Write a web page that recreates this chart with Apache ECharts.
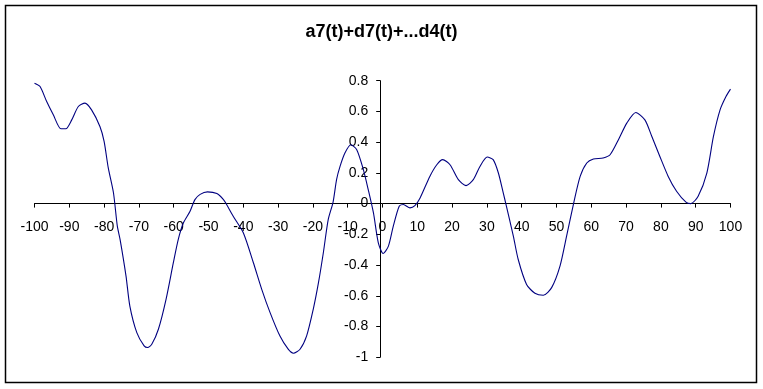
<!DOCTYPE html>
<html>
<head>
<meta charset="utf-8">
<script src="https://cdn.jsdelivr.net/npm/echarts@6/dist/echarts.min.js"></script>
<style>
html,body{margin:0;padding:0;background:#fff;}
#c{width:763px;height:389px;}
</style>
</head>
<body>
<div id="c"></div>
<script>
var titleText = 'a7(t)+d7(t)+...d4(t)';
var tValues = [-100,-98.4,-96.5,-94.6,-92.4,-91,-89.3,-87.4,-85.5,-83.6,-81.2,-80,-78.8,-77.3,-76.2,-75.4,-73.7,-72.6,-70.6,-68.5,-67.5,-66.3,-64.4,-62.2,-60.1,-58.7,-57.2,-55.3,-53.9,-52.4,-50.3,-47.6,-45.7,-44.8,-42.9,-40,-37.1,-34.7,-32.3,-29.5,-27.1,-25.6,-23.7,-21.8,-19.9,-18.4,-17,-15.6,-14.2,-13.2,-12.2,-10.8,-9.1,-7.4,-5.5,-4.1,-2.6,-1.2,0.2,1.7,3.1,4.8,6.0,7.9,9.3,10.8,13.6,15.6,17.3,19.4,21.8,24.0,26.1,28.0,30.1,31.8,33.3,34.7,35.5,37.6,39.0,41.4,43.8,46.2,48.6,51.0,52.9,55.0,56.8,58.7,60.6,63.4,65.4,67.8,70.2,72.8,75.4,77.4,79.7,82.1,84.5,87.2,88.6,90.7,93.2,95.1,97.0,98.7,100];
var signalValues = [0.784,0.762,0.664,0.578,0.487,0.487,0.545,0.632,0.654,0.610,0.502,0.405,0.232,0.069,-0.147,-0.234,-0.472,-0.667,-0.840,-0.926,-0.937,-0.916,-0.818,-0.623,-0.385,-0.234,-0.125,-0.050,0.026,0.060,0.076,0.065,0.026,-0.006,-0.082,-0.190,-0.385,-0.558,-0.710,-0.861,-0.948,-0.974,-0.948,-0.861,-0.688,-0.515,-0.320,-0.104,0.010,0.156,0.242,0.329,0.383,0.351,0.221,0.091,-0.061,-0.255,-0.325,-0.277,-0.147,-0.017,-0.006,-0.028,-0.013,0.037,0.177,0.253,0.286,0.253,0.156,0.117,0.156,0.242,0.303,0.286,0.199,0.069,-0.006,-0.212,-0.364,-0.526,-0.584,-0.597,-0.547,-0.407,-0.212,0.010,0.177,0.264,0.290,0.297,0.318,0.416,0.524,0.593,0.545,0.437,0.307,0.177,0.080,0.009,0.0,0.048,0.199,0.437,0.610,0.697,0.745];
var xMin = -100, xMax = 100, xStep = 10;
var yMin = -1, yMax = 0.8, yStep = 0.2;

var points = tValues.map(function (t, i) { return [t, signalValues[i]]; });
var font = '"Liberation Sans", Arial, sans-serif';

var chart = echarts.init(document.getElementById('c'), null, {renderer: 'canvas'});
chart.setOption({
  animation: false,
  backgroundColor: '#ffffff',
  title: {
    text: titleText,
    left: 'center',
    top: 18,
    textStyle: {fontFamily: font, fontSize: 18, fontWeight: 'bold', color: '#000'}
  },
  graphic: [{
    type: 'rect',
    shape: {x: 5.5, y: 5.5, width: 751, height: 377},
    style: {fill: 'none', stroke: '#000', lineWidth: 1.5},
    silent: true
  }],
  grid: {left: 34.5, right: 32.5, top: 80.7, bottom: 31.8, containLabel: false},
  xAxis: {
    type: 'value',
    position: 'bottom',
    min: xMin, max: xMax, interval: xStep,
    axisLine: {onZero: false, lineStyle: {color: '#000', width: 1}},
    axisTick: {show: true, inside: false, length: 4, lineStyle: {color: '#000'}},
    axisLabel: {margin: 17, color: '#000', fontSize: 14, fontFamily: font},
    splitLine: {show: false}
  },
  yAxis: {
    type: 'value',
    position: 'left',
    min: yMin, max: yMax, interval: yStep,
    axisLine: {show: true, onZero: false, lineStyle: {color: '#000', width: 1}},
    axisTick: {show: true, inside: false, length: 4, lineStyle: {color: '#000'}},
    axisLabel: {margin: 12, color: '#000', fontSize: 14, fontFamily: font},
    splitLine: {show: false}
  },
  series: [{
    type: 'line',
    data: points,
    smooth: 0.25,
    showSymbol: false,
    symbol: 'none',
    lineStyle: {color: '#000080', width: 1.1}
  }]
});
// move both axes (and their labels) onto the zero lines, as in the original
var zero = chart.convertToPixel({gridIndex: 0}, [0, 0]);
var corner = chart.convertToPixel({gridIndex: 0}, [xMin, yMin]);
chart.setOption({
  xAxis: {offset: -(corner[1] - zero[1])},
  yAxis: {offset: -(zero[0] - corner[0])}
});
</script>
</body>
</html>
